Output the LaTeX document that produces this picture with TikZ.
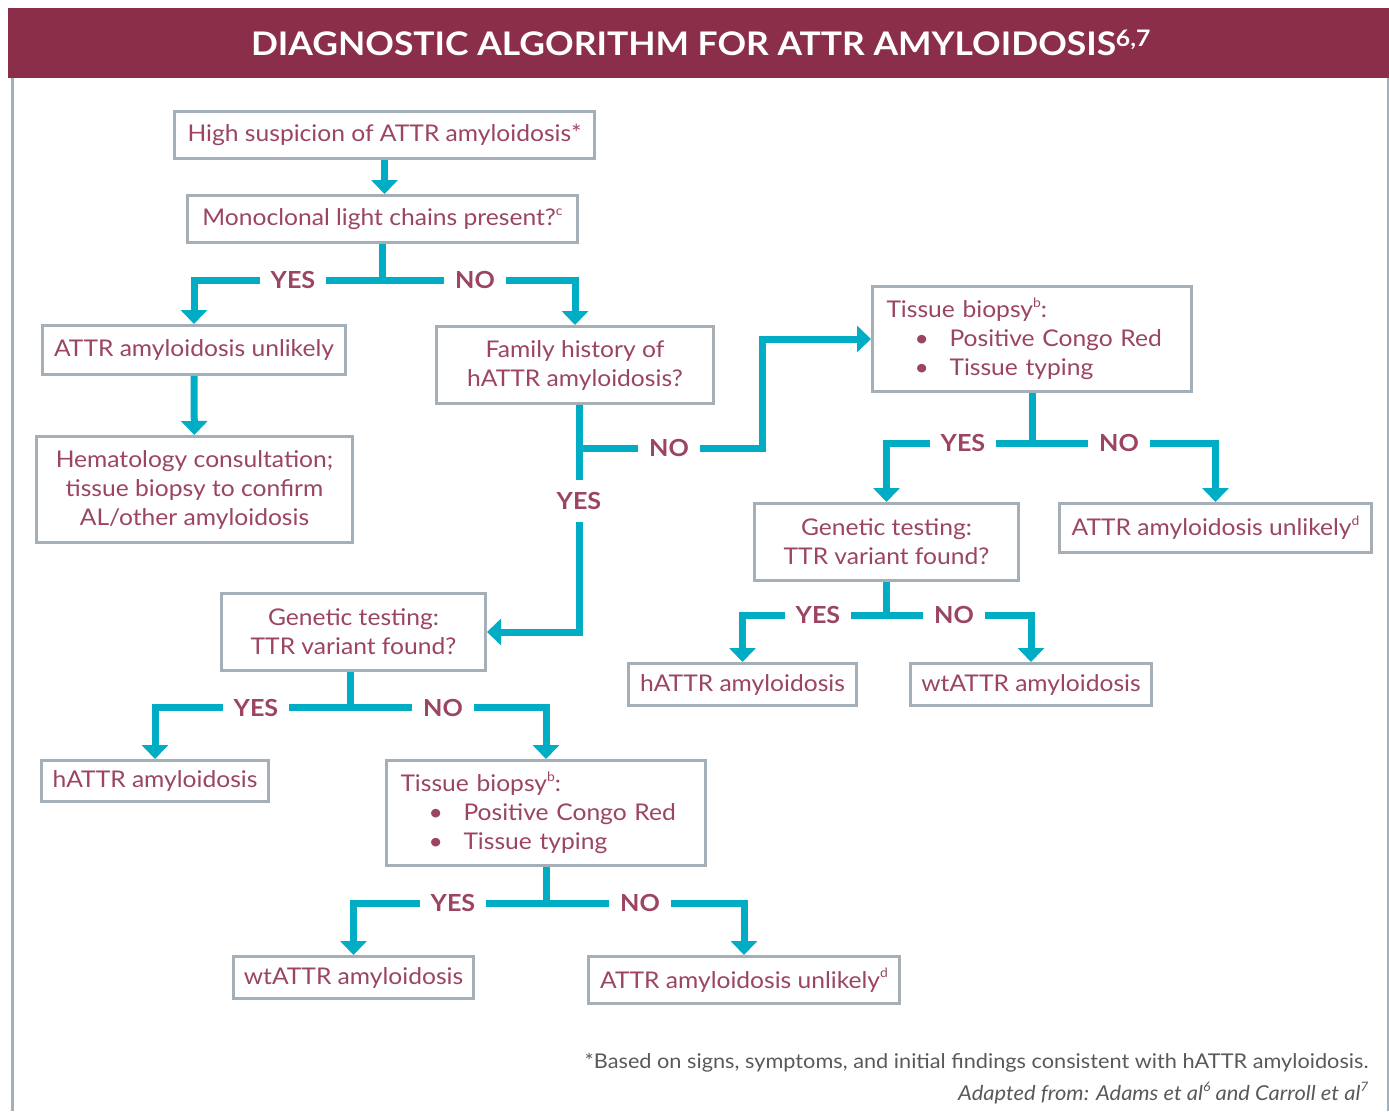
\documentclass[tikz,border=0pt]{standalone}
\usepackage{fontspec}
\setmainfont{Lato}[FakeStretch=1.07]
\newfontfamily\titlefont{Lato}[FakeStretch=1.09]
\usetikzlibrary{arrows.meta,calc}
\definecolor{barc}{HTML}{8B2E4A}
\definecolor{txt}{HTML}{9B4560}
\definecolor{cy}{HTML}{00ADC4}
\definecolor{bd}{HTML}{A5AFB7}
\definecolor{ft}{HTML}{595959}
\newcommand{\smallsup}[1]{\raisebox{0.45em}{\fontsize{13}{13}\selectfont #1}}
\begin{document}
\begin{tikzpicture}[x=1pt,y=-1pt,
  box/.style={draw=bd, line width=3pt, fill=white, text=txt, font=\fontsize{23}{29}\selectfont, align=center, inner sep=0pt},
  arr/.style={draw=cy, line width=7pt, -{Triangle[width=26pt,length=14pt]}},
  yn/.style={fill=white, text=txt, font=\bfseries\fontsize{23.5}{23.5}\selectfont, inner xsep=11pt, inner ysep=4pt}]
\useasboundingbox (0,0) rectangle (1389,1111);
\fill[barc] (8,8) rectangle (1389,78);
\draw[bd, line width=3pt] (12.5,78) -- (12.5,1111);
\draw[bd, line width=1.5pt] (1388,78) -- (1388,1111);
\node[text=white, font=\titlefont\bfseries\fontsize{32.5}{32.5}\selectfont] (title) at (701,43) {DIAGNOSTIC ALGORITHM FOR ATTR AMYLOIDOSIS\textsuperscript{6,7}};

% boxes
\node[box, minimum width=420, minimum height=47] (hs) at (384.5,135) {High suspicion of ATTR amyloidosis*};
\node[box, minimum width=390, minimum height=47] (mc) at (382.5,219) {Monoclonal light chains present?\smallsup{c}};
\node[box, minimum width=303, minimum height=49] (u1) at (194,350) {ATTR amyloidosis unlikely};
\node[box, minimum width=316, minimum height=106] (hem) at (194.5,489.5) {Hematology consultation;\\tissue biopsy to confirm\\AL/other amyloidosis};
\node[box, minimum width=277, minimum height=77] (fh) at (575,365) {Family history of\\hATTR amyloidosis?};
\node[box, minimum width=319, minimum height=105, align=left, text width=291] (tb1) at (1032,339) {Tissue biopsy\smallsup{b}:\\\makebox[63pt][l]{\hspace*{28pt}\textbullet}Positive Congo Red\\\makebox[63pt][l]{\hspace*{28pt}\textbullet}Tissue typing};
\node[box, minimum width=264, minimum height=77] (gr) at (886.5,542) {Genetic testing:\\TTR variant found?};
\node[box, minimum width=312, minimum height=49] (u2) at (1215.5,528) {ATTR amyloidosis unlikely\smallsup{d}};
\node[box, minimum width=228, minimum height=42] (hr) at (742.5,684.5) {hATTR amyloidosis};
\node[box, minimum width=241, minimum height=42] (wr) at (1031,684.5) {wtATTR amyloidosis};
\node[box, minimum width=264, minimum height=77] (gl) at (353.5,632) {Genetic testing:\\TTR variant found?};
\node[box, minimum width=227, minimum height=41] (hl) at (155,781) {hATTR amyloidosis};
\node[box, minimum width=319, minimum height=105, align=left, text width=291] (tb2) at (546,813) {Tissue biopsy\smallsup{b}:\\\makebox[63pt][l]{\hspace*{28pt}\textbullet}Positive Congo Red\\\makebox[63pt][l]{\hspace*{28pt}\textbullet}Tissue typing};
\node[box, minimum width=240, minimum height=42] (wl) at (353.5,977.5) {wtATTR amyloidosis};
\node[box, minimum width=311, minimum height=47] (u3) at (744,980) {ATTR amyloidosis unlikely\smallsup{d}};

% connectors
\draw[arr] (hs.south) -- (hs.south |- mc.north);
\draw[arr] (mc.south) -- ++(0,36) -| (u1.north);
\draw[arr] (mc.south) -- ++(0,36) -| (fh.north);
\draw[arr] (u1) -- (hem);
\coordinate (fj) at ([xshift=4pt]fh.south);
\draw[arr] (fj) |- (gl.east);
\draw[arr] (fj) -- ++(0,43) -- ++(183,0) |- (tb1.west);
\draw[arr] (tb1.south) -- ++(0,50) -| (gr.north);
\draw[arr] (tb1.south) -- ++(0,50) -| (u2.north);
\draw[arr] (gr.south) -- ++(0,33) -| (hr.north);
\draw[arr] (gr.south) -- ++(0,33) -| (wr.north);
\draw[arr] ([xshift=-3pt]gl.south) -- ++(0,35) -| (hl.north);
\draw[arr] ([xshift=-3pt]gl.south) -- ++(0,35) -| (tb2.north);
\draw[arr] (tb2.south) -- ++(0,36) -| (wl.north);
\draw[arr] (tb2.south) -- ++(0,36) -| (u3.north);

% labels
\node[yn] (y1) at (293,280) {YES};
\node[yn] (n1) at (475,280) {NO};
\node[yn] (n2) at (669,448) {NO};
\node[yn, inner ysep=12pt] (y2) at (579,501) {YES};
\node[yn] (y3) at (963,443) {YES};
\node[yn] (n3) at (1119,443) {NO};
\node[yn] (y4) at (818,615) {YES};
\node[yn] (n4) at (954,615) {NO};
\node[yn] (y5) at (256,708) {YES};
\node[yn] (n5) at (443,708) {NO};
\node[yn] (y6) at (453,903) {YES};
\node[yn] (n6) at (640,903) {NO};

% footnotes
\node[anchor=east, text=ft, font=\fontsize{20.3}{20.3}\selectfont] (fn1) at (1372,1063) {*Based on signs, symptoms, and initial findings consistent with hATTR amyloidosis.};
\node[anchor=east, text=ft, font=\itshape\fontsize{20.5}{20.5}\selectfont] (fn2) at (1372,1093) {Adapted from: Adams et al\smallsup{6} and Carroll et al\smallsup{7}};
\end{tikzpicture}
\end{document}
